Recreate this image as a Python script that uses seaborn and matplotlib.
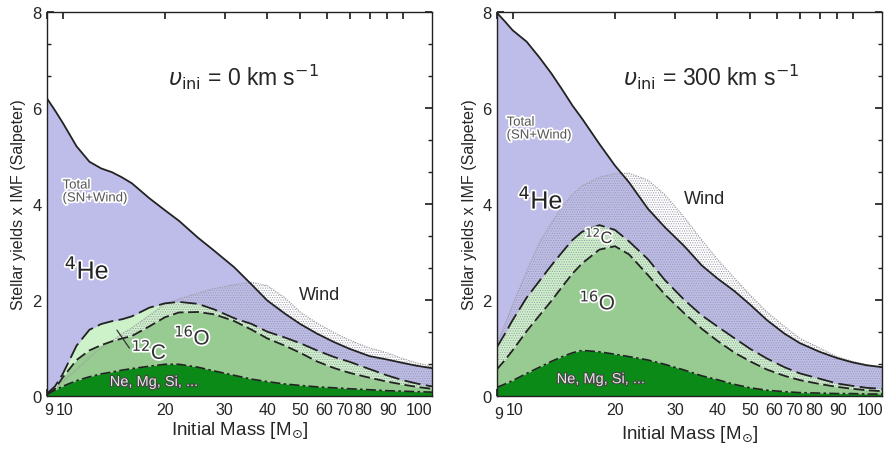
import numpy as np
import pandas as pd
import matplotlib
matplotlib.use("Agg")
import matplotlib.pyplot as plt
import matplotlib.ticker as ticker
import matplotlib.patheffects as pe
import matplotlib.transforms as mtransforms
import seaborn as sns

# DATA
mass = [9, 9.5, 10, 11, 12, 13, 14, 15, 16, 18, 20, 22, 25, 28, 32, 36, 40, 45,
        50, 56, 63, 70, 80, 90, 100, 110, 122]

# v_ini = 0 km/s
total_v0 = [6.2, 5.95, 5.7, 5.2, 4.88, 4.74, 4.66, 4.55, 4.43, 4.12, 3.87, 3.65, 3.3,
            3.02, 2.68, 2.32, 1.99, 1.72, 1.5, 1.3, 1.12, 0.98, 0.83, 0.76, 0.69, 0.63, 0.58]
wind_v0 = [0.05, 0.15, 0.3, 0.55, 0.8, 1.0, 1.15, 1.3, 1.42, 1.68, 1.92, 2.02, 2.14,
           2.24, 2.32, 2.37, 2.3, 2.05, 1.75, 1.52, 1.32, 1.16, 1.0, 0.9, 0.78, 0.69, 0.62]
c12_v0 = [0.05, 0.2, 0.45, 1.05, 1.38, 1.5, 1.56, 1.6, 1.66, 1.84, 1.93, 1.96, 1.92,
          1.8, 1.62, 1.5, 1.34, 1.22, 1.1, 0.95, 0.81, 0.71, 0.56, 0.43, 0.33, 0.26, 0.2]
o16_v0 = [0.03, 0.15, 0.38, 0.75, 0.95, 1.06, 1.14, 1.2, 1.25, 1.45, 1.64, 1.74, 1.75,
          1.7, 1.56, 1.38, 1.2, 1.05, 0.9, 0.72, 0.58, 0.48, 0.38, 0.3, 0.24, 0.19, 0.15]
nemg_v0 = [0.03, 0.12, 0.2, 0.32, 0.4, 0.46, 0.5, 0.54, 0.57, 0.62, 0.66, 0.66, 0.6,
           0.52, 0.43, 0.35, 0.3, 0.25, 0.22, 0.19, 0.17, 0.15, 0.13, 0.11, 0.1, 0.09, 0.08]

# v_ini = 300 km/s
total_v300 = [7.98, 7.8, 7.62, 7.38, 7.05, 6.72, 6.38, 6.05, 5.78, 5.25, 4.8, 4.45, 3.9,
              3.52, 3.12, 2.72, 2.45, 2.18, 1.9, 1.58, 1.3, 1.1, 0.92, 0.79, 0.7, 0.64, 0.6]
wind_v300 = [1.1, 1.5, 1.9, 2.6, 3.2, 3.6, 3.95, 4.2, 4.38, 4.56, 4.63, 4.64, 4.5,
             4.2, 3.72, 3.25, 2.85, 2.45, 2.1, 1.75, 1.45, 1.2, 1.0, 0.82, 0.72, 0.65, 0.61]
c12_v300 = [1.02, 1.3, 1.58, 2.05, 2.4, 2.72, 3.0, 3.25, 3.42, 3.56, 3.46, 3.22, 2.85,
            2.42, 2.0, 1.68, 1.45, 1.2, 0.98, 0.78, 0.6, 0.47, 0.36, 0.26, 0.21, 0.17, 0.15]
o16_v300 = [0.56, 0.75, 0.95, 1.35, 1.68, 1.98, 2.28, 2.55, 2.76, 3.05, 3.12, 2.95, 2.52,
            2.12, 1.72, 1.4, 1.15, 0.9, 0.72, 0.55, 0.42, 0.33, 0.25, 0.19, 0.15, 0.12, 0.1]
nemg_v300 = [0.18, 0.25, 0.32, 0.47, 0.6, 0.72, 0.82, 0.9, 0.95, 0.92, 0.87, 0.82, 0.75,
             0.66, 0.54, 0.42, 0.34, 0.24, 0.17, 0.12, 0.09, 0.07, 0.06, 0.05, 0.05, 0.04, 0.04]

xticks = [9, 10, 20, 30, 40, 50, 60, 70, 80, 90, 100]
# the original spreads the crowded labels by hand (pixel shifts, x and y)
label_shift = [(2, 0), (2, 0), (0, 0), (0, 0), (0, 0), (0, 0), (-3, 0), (-6, 0),
               (-6, 0), (1, 0), (17, 0)]

panels = [
    dict(title=r"$\upsilon_{\rm ini}$ = 0 km s$^{-1}$", title_xy=(34, 6.65),
         total=total_v0, wind=wind_v0, c12=c12_v0, o16=o16_v0, ne=nemg_v0,
         total_lbl=(10.0, 4.25), he=(11.8, 2.62), wind_lbl=(57, 2.12),
         c_lbl=(18.0, 0.95), o_lbl=(24.1, 1.25), ne_lbl=(18.6, 0.29), nine_dy=0),
    dict(title=r"$\upsilon_{\rm ini}$ = 300 km s$^{-1}$", title_xy=(38.4, 6.65),
         total=total_v300, wind=wind_v300, c12=c12_v300, o16=o16_v300, ne=nemg_v300,
         total_lbl=(9.6, 5.56), he=(12.1, 4.08), wind_lbl=(36.7, 4.12),
         c_lbl=(18.0, 3.33), o_lbl=(17.8, 1.98), ne_lbl=(18.2, 0.35), nine_dy=-4),
]

# STYLE
sns.set_theme(style="ticks")
plt.rcParams['font.family'] = ['Liberation Sans', 'DejaVu Sans']
plt.rcParams['mathtext.fontset'] = 'dejavusans'
plt.rcParams['hatch.linewidth'] = 0.5

lavender = '#bebdea'
light_green = '#cdf1c8'
mid_green = '#97cb92'
dark_green = '#0b8a17'

halo = [pe.withStroke(linewidth=2.5, foreground='white')]

fig = plt.figure(figsize=(8.86, 4.52), dpi=100)
axes = [fig.add_axes([0.053, 0.1217, 0.4345, 0.8496]),
        fig.add_axes([0.561, 0.1217, 0.4345, 0.8496])]

for ax, p in zip(axes, panels):
    df = pd.DataFrame({'mass': mass, 'total': p['total'], 'wind': p['wind'],
                       'c12': p['c12'], 'o16': p['o16'], 'ne': p['ne']})

    # filled layers
    ax.fill_between(df['mass'], 0, df['total'], color=lavender, lw=0)
    ax.fill_between(df['mass'], 0, df['c12'], color=light_green, lw=0)
    ax.fill_between(df['mass'], 0, df['wind'], facecolor='none', edgecolor='#9898aa',
                    hatch='.......', lw=0)
    ax.fill_between(df['mass'], 0, df['o16'], color=mid_green, lw=0)
    ax.fill_between(df['mass'], 0, df['ne'], color=dark_green, lw=0)

    # boundaries
    sns.lineplot(data=df, x='mass', y='wind', ax=ax, color='#9a9a9a', lw=0.8,
                 linestyle=(0, (1, 1.2)))
    sns.lineplot(data=df, x='mass', y='total', ax=ax, color='#222222', lw=1.3)
    sns.lineplot(data=df, x='mass', y='c12', ax=ax, color='#222222', lw=1.3,
                 linestyle=(0, (9, 3)))
    sns.lineplot(data=df, x='mass', y='o16', ax=ax, color='#222222', lw=1.3,
                 linestyle=(0, (6, 2.5)))
    sns.lineplot(data=df, x='mass', y='ne', ax=ax, color='#222222', lw=1.2,
                 linestyle=(0, (6, 2, 1.5, 2)))

    ax.set_xscale('log')
    ax.set_xlim(9, 122)
    ax.set_ylim(0, 8)
    ax.set_xticks(xticks)
    ax.set_xticklabels([str(t) for t in xticks])
    ax.xaxis.set_minor_formatter(ticker.NullFormatter())
    ax.set_yticks([0, 2, 4, 6, 8])
    ax.yaxis.set_minor_locator(ticker.AutoMinorLocator(3))
    ax.tick_params(which='both', direction='in', top=True, right=True, color='#222222')
    ax.tick_params(which='major', length=5, labelsize=12, pad=4)
    ax.tick_params(axis='x', which='major', labelsize=11.5)
    ax.tick_params(which='minor', length=3)
    for s in ax.spines.values():
        s.set_color('#222222')
        s.set_linewidth(1.0)

    shifts = list(label_shift)
    shifts[0] = (shifts[0][0], p['nine_dy'])
    for lbl, (dx, dy) in zip(ax.get_xticklabels(), shifts):
        off = mtransforms.ScaledTranslation(dx / 100, dy / 100, fig.dpi_scale_trans)
        lbl.set_transform(lbl.get_transform() + off)

    ax.set_xlabel(r"Initial Mass [M$_{\odot}$]", fontsize=13.5, labelpad=2)
    ax.set_ylabel("Stellar yields x IMF (Salpeter)", fontsize=11.5, labelpad=4)

    # annotations
    ax.text(*p['title_xy'], p['title'], fontsize=16.5, ha='center', va='center')
    ax.text(*p['total_lbl'], "Total\n(SN+Wind)", fontsize=9.5, color='#555555',
            ha='left', va='center', linespacing=1.1, path_effects=halo)
    ax.text(*p['he'], r"$^{4}$He", fontsize=18, ha='center', va='center',
            color='#222222', path_effects=halo)
    ax.text(*p['wind_lbl'], "Wind", fontsize=13, ha='center', va='center')
    ax.text(*p['o_lbl'], r"$^{16}$O", fontsize=15, ha='center', va='center',
            color='#333333', path_effects=halo)
    ax.text(*p['ne_lbl'], "Ne, Mg, Si, ...", fontsize=10.5, ha='center', va='center',
            color='#e6e6e6',
            path_effects=[pe.withStroke(linewidth=1.6, foreground='#444444')])

axes[0].text(*panels[0]['c_lbl'], r"$^{12}$C", fontsize=15, ha='center', va='center',
             color='#333333', path_effects=halo)
axes[0].annotate("", xy=(14.3, 1.42), xytext=(15.9, 0.95),
                 arrowprops=dict(arrowstyle='-', color='#333333', lw=0.9))
axes[1].text(*panels[1]['c_lbl'], r"$^{12}$C", fontsize=12, ha='center', va='center',
             color='#333333', path_effects=halo)

fig.savefig("out.png", dpi=100)
